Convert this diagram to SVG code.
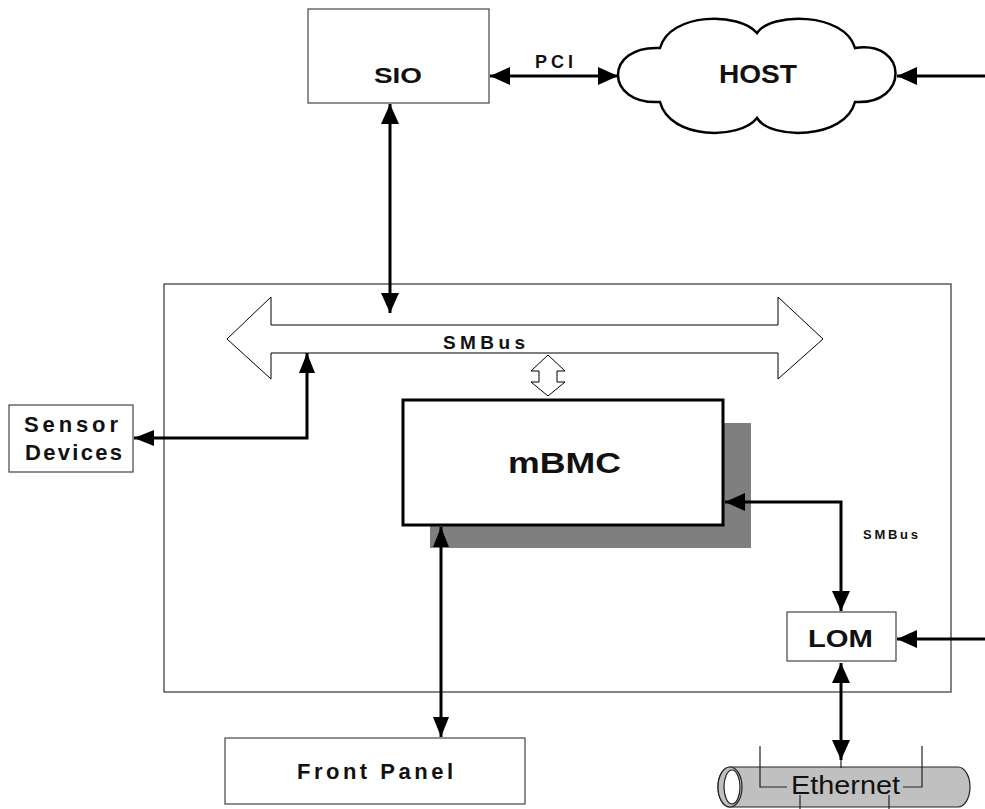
<svg xmlns="http://www.w3.org/2000/svg" width="985" height="809" viewBox="0 0 985 809">
<style>
.box{fill:#fff;stroke:#444;stroke-width:1.2}
.t{font-family:"Liberation Sans",Arial,sans-serif;font-weight:bold;fill:#111}
.con{fill:none;stroke:#000;stroke-width:3}
.thin{fill:none;stroke:#222;stroke-width:1.2}
</style>
<defs>
<marker id="ah" markerUnits="userSpaceOnUse" markerWidth="20" markerHeight="18" refX="20" refY="9" orient="auto-start-reverse" viewBox="0 0 20 18">
<path d="M0,0 L20,9 L0,18 Z" fill="#000"/>
</marker>
<marker id="ahs" markerUnits="userSpaceOnUse" markerWidth="20" markerHeight="16" refX="20" refY="8" orient="auto-start-reverse" viewBox="0 0 20 16">
<path d="M0,0 L20,8 L0,16 Z" fill="#000"/>
</marker>
</defs>
<rect width="985" height="809" fill="#fff"/>

<g id="board">
<rect x="164" y="284" width="787" height="408" fill="none" stroke="#333" stroke-width="1.2"/>
</g>

<g id="smbus-bus">
<polygon points="227,339 271,297 271,325 778,325 778,297 823,339 778,379 778,353 271,353 271,379" fill="#fff" stroke="#000" stroke-width="1"/>
<text class="t" x="443" y="349" font-size="19" textLength="82" lengthAdjust="spacing">SMBus</text>
</g>

<g id="sio">
<rect class="box" x="308" y="9" width="181" height="94"/>
<text class="t" x="374" y="83" font-size="22" textLength="48" lengthAdjust="spacingAndGlyphs">SIO</text>
</g>

<g id="host">
<path d="M660,48 C670,12 740,12 757,33 C770,12 845,12 855,48 C908,40 910,105 855,102 C845,140 770,140 757,118 C740,140 670,140 660,102 C604,105 604,45 660,48 Z" fill="#fff" stroke="#000" stroke-width="2.5"/>
<text class="t" x="719" y="83" font-size="25" textLength="78" lengthAdjust="spacingAndGlyphs">HOST</text>
</g>

<g id="mbmc">
<rect x="430" y="423" width="321" height="125" fill="#7f7f7f"/>
<rect x="403" y="400" width="320" height="125" fill="#fff" stroke="#000" stroke-width="3"/>
<text class="t" x="508" y="473" font-size="29" textLength="113" lengthAdjust="spacingAndGlyphs">mBMC</text>
</g>

<g id="sensor">
<rect class="box" x="9" y="405" width="124" height="67"/>
<text class="t" x="24" y="432" font-size="22" textLength="94" lengthAdjust="spacing">Sensor</text>
<text class="t" x="25" y="460" font-size="22" textLength="97" lengthAdjust="spacing">Devices</text>
</g>

<g id="lom">
<rect class="box" x="787" y="612" width="109" height="49"/>
<text class="t" x="808" y="647" font-size="23" textLength="65" lengthAdjust="spacingAndGlyphs">LOM</text>
</g>

<g id="frontpanel">
<rect class="box" x="225" y="738" width="300" height="66"/>
<text class="t" x="297" y="779" font-size="22" textLength="156" lengthAdjust="spacing">Front Panel</text>
</g>

<g id="ethernet">
<path d="M730,767 H958 A12,20 0 0 1 958,807 H730 A12,20 0 0 1 730,767 Z" fill="#c0c0c0" stroke="#222" stroke-width="1.2"/>
<ellipse cx="730" cy="787" rx="12" ry="20" fill="#c0c0c0" stroke="#222" stroke-width="1.2"/>
<ellipse cx="732" cy="787" rx="8" ry="17" fill="#fff" stroke="#222" stroke-width="1.2"/>
<polyline class="thin" points="760,746 760,787 787,787"/>
<polyline class="thin" points="903,787 922,787 922,746"/>
<line class="thin" x1="800" y1="795" x2="800" y2="809"/>
<line class="thin" x1="889" y1="795" x2="889" y2="809"/>
<line class="thin" x1="841" y1="755" x2="841" y2="768"/>
<text x="791" y="794" font-family="Liberation Sans,Arial,sans-serif" font-size="25" fill="#111" textLength="109" lengthAdjust="spacingAndGlyphs">Ethernet</text>
</g>

<g id="connectors">
<line class="con" x1="490" y1="76" x2="618" y2="76" marker-start="url(#ah)" marker-end="url(#ah)"/>
<text class="t" x="535" y="68" font-size="18" textLength="38" lengthAdjust="spacing">PCI</text>
<line class="con" x1="985" y1="76" x2="897" y2="76" stroke-width="2.5" marker-end="url(#ah)"/>
<line class="con" x1="390" y1="104" x2="390" y2="313" marker-start="url(#ah)" marker-end="url(#ah)"/>
<polygon points="548,355 565,371 557,371 557,382 565,382 548,396 531,382 539,382 539,371 531,371" fill="#fff" stroke="#000" stroke-width="1"/>
<polyline class="con" points="134,438 307,438 307,353" stroke-width="2.2" marker-start="url(#ahs)" marker-end="url(#ahs)"/>
<polyline class="con" points="725,502 841,502 841,611" stroke-width="2.5" marker-start="url(#ah)" marker-end="url(#ah)"/>
<text class="t" x="863" y="539" font-size="13" textLength="55" lengthAdjust="spacing">SMBus</text>
<line class="con" x1="985" y1="639" x2="897" y2="639" stroke-width="2.5" marker-end="url(#ah)"/>
<line class="con" x1="841" y1="663" x2="841" y2="760" marker-start="url(#ah)" marker-end="url(#ah)"/>
<line class="con" x1="441" y1="527" x2="441" y2="737" marker-start="url(#ahs)" marker-end="url(#ahs)"/>
</g>
</svg>
